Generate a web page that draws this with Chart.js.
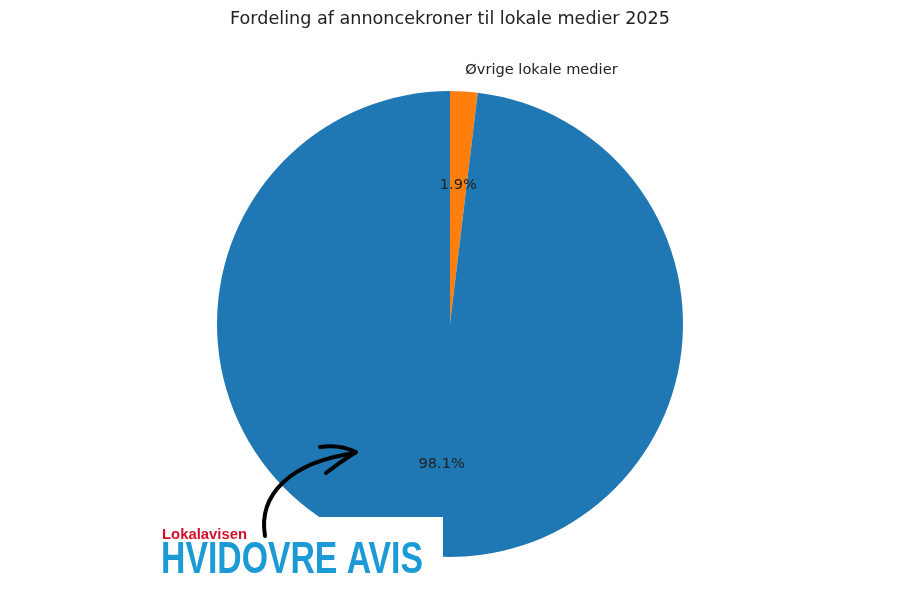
<!DOCTYPE html>
<html>
<head>
<meta charset="utf-8">
<script src="https://cdn.jsdelivr.net/npm/chart.js@4/dist/chart.umd.min.js"></script>
<style>
  html, body { margin: 0; padding: 0; background: #fff; }
  #wrap { width: 900px; height: 600px; }
</style>
</head>
<body>
<div id="wrap"><canvas id="myChart" width="900" height="600"></canvas></div>
<script>
var titleText = "Fordeling af annoncekroner til lokale medier 2025";
var labels = ["Øvrige lokale medier", "Hvidovre Avis"];
var shares = [1.9, 98.1];
var colors = ["#ff7f0e", "#1f77b4"];

// labels + percentages like matplotlib autopct
var pieText = {
    id: "pieText",
    afterDatasetsDraw: function(chart) {
        var ctx = chart.ctx;
        var meta = chart.getDatasetMeta(0);
        ctx.save();
        ctx.font = "14.6px 'DejaVu Sans'";
        ctx.textBaseline = "middle";
        meta.data.forEach(function(arc, i) {
            var mid = (arc.startAngle + arc.endAngle) / 2;
            var r = arc.outerRadius;
            var c = Math.cos(mid), s = Math.sin(mid);
            ctx.fillStyle = "#222";
            ctx.textAlign = "center";
            ctx.fillText(shares[i].toFixed(1) + "%", arc.x + c * r * 0.6, arc.y + s * r * 0.6 + 1);
            ctx.textAlign = c >= 0 ? "left" : "right";
            ctx.fillText(labels[i], arc.x + c * r * 1.1, arc.y + s * r * 1.1 + 2);
        });
        // title
        ctx.font = "17.6px 'DejaVu Sans'";
        ctx.textAlign = "center";
        ctx.fillStyle = "#222";
        ctx.fillText(titleText, 450, 19);
        ctx.restore();
    }
};

// the logo overlay in the lower left corner
var logo = {
    id: "logo",
    afterDraw: function(chart) {
        var ctx = chart.ctx;
        ctx.save();
        ctx.fillStyle = "#fff";
        ctx.fillRect(0, 517, 443, 83);

        ctx.fillStyle = "#d0112b";
        ctx.font = "bold 15px 'Liberation Sans'";
        ctx.textAlign = "left";
        ctx.textBaseline = "alphabetic";
        var w = ctx.measureText("Lokalavisen").width;
        ctx.save();
        ctx.translate(162, 539);
        ctx.scale(85 / w, 1);
        ctx.fillText("Lokalavisen", 0, 0);
        ctx.restore();

        ctx.fillStyle = "#1b9ad6";
        ctx.font = "bold 44px 'Liberation Sans'";
        w = ctx.measureText("HVIDOVRE AVIS").width;
        ctx.save();
        ctx.translate(161, 573);
        ctx.scale(262 / w, 1);
        ctx.fillText("HVIDOVRE AVIS", 0, 0);
        ctx.restore();

        // hand drawn arrow
        ctx.strokeStyle = "#000";
        ctx.lineWidth = 4;
        ctx.lineCap = "round";
        ctx.lineJoin = "round";
        ctx.beginPath();
        ctx.moveTo(265, 536);
        ctx.bezierCurveTo(258, 495, 290, 462, 355, 453);
        ctx.stroke();
        ctx.beginPath();
        ctx.moveTo(320, 447);
        ctx.quadraticCurveTo(340, 444, 356, 452);
        ctx.quadraticCurveTo(340, 462, 326, 473);
        ctx.stroke();
        ctx.restore();
    }
};

new Chart("myChart", {
    type: "pie",
    data: {
        labels: labels,
        datasets: [{
            data: shares,
            backgroundColor: colors,
            borderWidth: 0
        }]
    },
    options: {
        responsive: false,
        animation: false,
        layout: { padding: { top: 91, bottom: 43, left: 0, right: 0 } },
        plugins: {
            legend: { display: false },
            title: { display: false },
            tooltip: { enabled: false }
        }
    },
    plugins: [pieText, logo]
});
</script>
</body>
</html>
